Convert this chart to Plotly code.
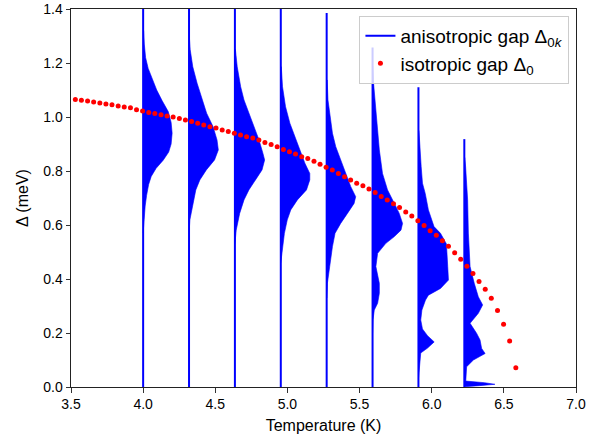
import plotly.graph_objects as go

# ---------------- data ----------------
iso_T = [3.530, 3.572, 3.615, 3.657, 3.700, 3.742, 3.784, 3.827, 3.869, 3.912,
         3.954, 3.996, 4.039, 4.081, 4.124, 4.166, 4.208, 4.251, 4.293, 4.336,
         4.378, 4.420, 4.463, 4.505, 4.548, 4.590, 4.632, 4.675, 4.717, 4.760,
         4.802, 4.844, 4.887, 4.929, 4.972, 5.014, 5.056, 5.099, 5.141, 5.184,
         5.226, 5.268, 5.311, 5.353, 5.396, 5.438, 5.480, 5.523, 5.565, 5.608,
         5.650, 5.692, 5.735, 5.777, 5.820, 5.862, 5.904, 5.947, 5.989, 6.032,
         6.074, 6.116, 6.159, 6.201, 6.244, 6.286, 6.328, 6.371, 6.413, 6.456,
         6.498, 6.540, 6.583]
iso_gap = [1.065, 1.062, 1.059, 1.056, 1.052, 1.048, 1.045, 1.041, 1.037, 1.034,
           1.027, 1.022, 1.017, 1.013, 1.008, 1.004, 1.000, 0.994, 0.989, 0.983,
           0.977, 0.970, 0.964, 0.959, 0.952, 0.946, 0.940, 0.933, 0.927, 0.922,
           0.915, 0.906, 0.898, 0.890, 0.880, 0.871, 0.863, 0.853, 0.846, 0.836,
           0.825, 0.814, 0.804, 0.791, 0.779, 0.767, 0.755, 0.745, 0.733, 0.720,
           0.706, 0.693, 0.679, 0.665, 0.648, 0.633, 0.616, 0.598, 0.579, 0.562,
           0.542, 0.521, 0.497, 0.473, 0.447, 0.420, 0.391, 0.362, 0.329, 0.283,
           0.232, 0.170, 0.071]

hist_T = [4.000, 4.318, 4.636, 4.954, 5.272, 5.590, 5.908, 6.226]
hist_top = [1.60, 1.60, 1.60, 1.60, 1.385, 1.257, 1.110, 0.918]

h1_gap = [1.32, 1.27, 1.22, 1.18, 1.14, 1.10, 1.06, 1.02, 0.98, 0.94, 0.90, 0.87, 0.84, 0.81, 0.78, 0.75, 0.71, 0.67, 0.62, 0.57]
h1_w = [0.0035, 0.008, 0.017, 0.035, 0.062, 0.094, 0.132, 0.174, 0.194, 0.201, 0.194, 0.177, 0.139, 0.090, 0.056, 0.038, 0.024, 0.014, 0.007, 0.002]

h2_gap = [1.30, 1.25, 1.186, 1.125, 1.063, 1.014, 0.964, 0.915, 0.878, 0.841, 0.804, 0.767, 0.730, 0.668, 0.619, 0.58]
h2_w = [0.002, 0.008, 0.026, 0.056, 0.090, 0.122, 0.167, 0.194, 0.203, 0.177, 0.120, 0.075, 0.047, 0.022, 0.006, 0.0015]

h3_gap = [1.25, 1.186, 1.112, 1.063, 1.014, 0.964, 0.915, 0.866, 0.841, 0.804, 0.767, 0.730, 0.693, 0.643, 0.581, 0.53]
h3_w = [0.0035, 0.016, 0.040, 0.063, 0.097, 0.132, 0.167, 0.194, 0.206, 0.188, 0.144, 0.097, 0.063, 0.033, 0.009, 0.002]

h4_gap = [1.186, 1.112, 1.038, 0.977, 0.927, 0.878, 0.829, 0.791, 0.767, 0.730, 0.693, 0.656, 0.619, 0.569, 0.507, 0.46]
h4_w = [0.0035, 0.012, 0.033, 0.063, 0.097, 0.132, 0.167, 0.201, 0.201, 0.178, 0.115, 0.069, 0.045, 0.025, 0.010, 0.002]

h5_gap = [1.137, 1.063, 0.989, 0.940, 0.890, 0.841, 0.791, 0.742, 0.705, 0.680, 0.643, 0.606, 0.569, 0.520, 0.446, 0.384, 0.33]
h5_w = [0.0035, 0.009, 0.028, 0.040, 0.063, 0.097, 0.132, 0.167, 0.201, 0.190, 0.144, 0.097, 0.058, 0.040, 0.021, 0.005, 0.0015]

h6_gap = [1.19, 1.125, 1.001, 0.878, 0.791, 0.730, 0.680, 0.643, 0.606, 0.581, 0.557, 0.532, 0.495, 0.446, 0.384, 0.347, 0.310, 0.285, 0.25, 0.20]
h6_w = [0.002, 0.007, 0.028, 0.047, 0.069, 0.104, 0.151, 0.185, 0.208, 0.197, 0.151, 0.092, 0.035, 0.023, 0.047, 0.047, 0.035, 0.012, 0.0035, 0.0015]

h7_gap = [0.95, 0.816, 0.755, 0.717, 0.656, 0.594, 0.569, 0.530, 0.483, 0.446, 0.396, 0.365, 0.340, 0.322, 0.285, 0.248, 0.215, 0.190, 0.167, 0.144, 0.126, 0.074, 0.030]
h7_w = [0.0035, 0.019, 0.028, 0.047, 0.069, 0.108, 0.153, 0.194, 0.201, 0.203, 0.208, 0.153, 0.069, 0.049, 0.024, 0.016, 0.028, 0.063, 0.109, 0.063, 0.016, 0.007, 0.0035]

h8_gap = [0.85, 0.815, 0.693, 0.570, 0.507, 0.446, 0.384, 0.334, 0.304, 0.273, 0.236, 0.199, 0.174, 0.143, 0.124, 0.100, 0.075, 0.038, 0.022, 0.016, 0.010, 0.005, 0.001]
h8_w = [0.0035, 0.009, 0.023, 0.028, 0.035, 0.040, 0.069, 0.097, 0.127, 0.097, 0.040, 0.085, 0.109, 0.120, 0.144, 0.063, 0.016, 0.009, 0.010, 0.139, 0.212, 0.104, 0.007]

hist_gaps = [h1_gap, h2_gap, h3_gap, h4_gap, h5_gap, h6_gap, h7_gap, h8_gap]
hist_widths = [h1_w, h2_w, h3_w, h4_w, h5_w, h6_w, h7_w, h8_w]

x_ticks = [3.5, 4.0, 4.5, 5.0, 5.5, 6.0, 6.5, 7.0]
y_ticks = [0.0, 0.2, 0.4, 0.6, 0.8, 1.0, 1.2, 1.4]

# ---------------- figure ----------------
FONT = "Liberation Sans, Arial, Helvetica, sans-serif"
BLUE = "#0000ff"
RED = "#ff0000"

fig = go.Figure()

for i, (T, top, g, w) in enumerate(zip(hist_T, hist_top, hist_gaps, hist_widths)):
    xs = [T] + [T + wi for wi in w] + [T]
    ys = [g[0]] + list(g) + [g[-1]]
    fig.add_trace(go.Scatter(
        x=xs, y=ys, mode="lines", fill="toself", fillcolor=BLUE,
        line=dict(color=BLUE, width=0.6), showlegend=False, hoverinfo="skip"))
    fig.add_trace(go.Scatter(
        x=[T, T], y=[0, top], mode="lines",
        line=dict(color=BLUE, width=2),
        name="anisotropic gap Δ<sub>0<i>k</i></sub>",
        legendgroup="aniso", showlegend=(i == 0)))

fig.add_trace(go.Scatter(
    x=iso_T, y=iso_gap, mode="markers",
    marker=dict(color=RED, size=5, line=dict(width=0)),
    name="isotropic gap Δ<sub>0</sub>"))

axis_common = dict(
    showgrid=False, zeroline=False, showline=True, mirror=True,
    linecolor="#222222", linewidth=1, ticks="outside", ticklen=4.5,
    tickwidth=1, tickcolor="#333333", automargin=False,
    tickfont=dict(family=FONT, size=14, color="#000000"),
)

fig.update_layout(
    template=None,
    width=610, height=439,
    margin=dict(l=71, r=34, t=9, b=52),
    paper_bgcolor="white", plot_bgcolor="white",
    font=dict(family=FONT, color="#000000"),
    xaxis=dict(range=[3.5, 7.0], tickvals=x_ticks,
               ticktext=[f"{v:.1f}" for v in x_ticks],
               title=dict(text="Temperature (K)", font=dict(family=FONT, size=16), standoff=8),
               **axis_common),
    yaxis=dict(range=[0, 1.4], tickvals=y_ticks,
               ticktext=[f"{v:.1f}" for v in y_ticks],
               title=dict(text="Δ (meV)", font=dict(family=FONT, size=16), standoff=10),
               **axis_common),
    legend=dict(x=0.987, y=0.982, xanchor="right", yanchor="top",
                bgcolor="rgba(255,255,255,0.8)", bordercolor="#cccccc",
                borderwidth=1, font=dict(family=FONT, size=19),
                tracegroupgap=0),
    hovermode=False,
)

fig.write_html("out.html")
